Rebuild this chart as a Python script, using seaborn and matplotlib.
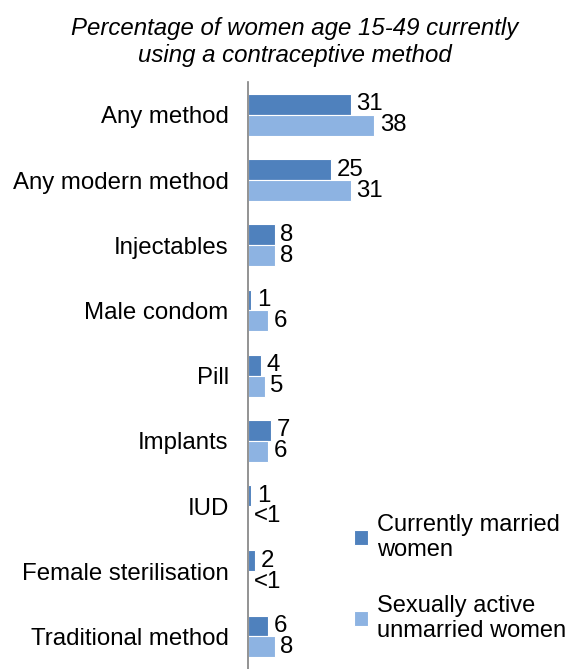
import matplotlib
matplotlib.use("Agg")
import matplotlib.pyplot as plt
import seaborn as sns
import pandas as pd

# data
methods = ["Any method", "Any modern method", "Injectables", "Male condom", "Pill",
           "Implants", "IUD", "Female sterilisation", "Traditional method"]
married = [31, 25, 8, 1, 4, 7, 1, 2, 6]
unmarried = [38, 31, 8, 6, 5, 6, 0, 0, 8]   # "<1" shown as no bar
married_lbl = ["31", "25", "8", "1", "4", "7", "1", "2", "6"]
unmarried_lbl = ["38", "31", "8", "6", "5", "6", "<1", "<1", "8"]
groups = ["Currently married\nwomen", "Sexually active\nunmarried women"]

df = pd.DataFrame({
    "method": methods * 2,
    "value": married + unmarried,
    "group": [groups[0]] * len(methods) + [groups[1]] * len(methods),
})

sns.set_style("white")
plt.rcParams["font.family"] = ["Liberation Sans", "DejaVu Sans"]
plt.rcParams["text.color"] = "black"
plt.rcParams["ytick.color"] = "black"

fig = plt.figure(figsize=(5.69, 6.69), dpi=100)
ax = fig.add_axes([0.436, 0.0, 0.564, 0.877])

sns.barplot(data=df, x="value", y="method", hue="group", orient="h",
            palette=["#4F81BD", "#8DB3E2"], saturation=1, width=0.64,
            edgecolor="white", linewidth=0.8, ax=ax)

for cont, lbls in zip(ax.containers, [married_lbl, unmarried_lbl]):
    ax.bar_label(cont, labels=lbls, padding=4, fontsize=17.3, color="black")

ax.set_xlim(0, 96.7)
ax.set_xlabel("")
ax.set_ylabel("")
ax.set_xticks([])
ax.tick_params(axis="y", length=0, labelsize=17.3, pad=14, labelcolor="black")
for s in ["top", "right", "bottom"]:
    ax.spines[s].set_visible(False)
ax.spines["left"].set_color("#808080")
ax.spines["left"].set_linewidth(1.2)

handles, labels = ax.get_legend_handles_labels()
ax.legend(handles, labels, loc="lower left", bbox_to_anchor=(0.3, 0.03),
          frameon=False, fontsize=17, handlelength=0.6, handleheight=0.6,
          handletextpad=0.4, labelspacing=1.4, borderaxespad=0,
          labelcolor="black")

fig.text(0.518, 0.937, "Percentage of women age 15-49 currently\nusing a contraceptive method",
         ha="center", va="center", fontsize=17.3, style="italic", linespacing=1.2)

fig.savefig("out.png", dpi=100)
plt.close(fig)
